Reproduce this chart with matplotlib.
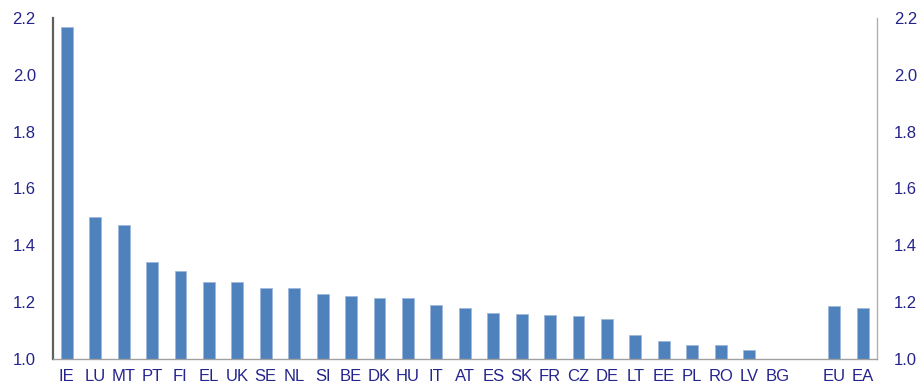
import matplotlib
matplotlib.use("Agg")
import matplotlib.pyplot as plt
import numpy as np

countries = ["IE", "LU", "MT", "PT", "FI", "EL", "UK", "SE", "NL", "SI", "BE", "DK", "HU",
             "IT", "AT", "ES", "SK", "FR", "CZ", "DE", "LT", "EE", "PL", "RO", "LV", "BG",
             "", "EU", "EA"]
values = [2.17, 1.50, 1.47, 1.34, 1.31, 1.27, 1.27, 1.25, 1.25, 1.23, 1.22, 1.215, 1.213,
          1.19, 1.18, 1.162, 1.16, 1.155, 1.15, 1.14, 1.083, 1.065, 1.051, 1.048, 1.032, 1.0,
          np.nan, 1.186, 1.178]
yticks = [1.0, 1.2, 1.4, 1.6, 1.8, 2.0, 2.2]

plt.rcParams["font.family"] = ["Liberation Sans", "DejaVu Sans"]
label_color = "#24248C"

fig = plt.figure(figsize=(9.2, 3.92), dpi=100)
ax = fig.add_axes([0.0571, 0.0842, 0.8962, 0.8699])

x = np.arange(len(countries))
heights = [v - 1.0 if not np.isnan(v) else 0 for v in values]
ax.bar(x, heights, bottom=1.0, width=0.42, color="#4F81BD",
       edgecolor="#9DB9DC", linewidth=0.6)

ax.set_xlim(-0.5, len(countries) - 0.5)
ax.set_ylim(1.0, 2.2)
ax.set_yticks(yticks)
ax.set_yticklabels([f"{t:.1f}" for t in yticks])
ax.set_xticks(x)
ax.set_xticklabels(countries)

ax.tick_params(axis="both", length=0, labelsize=12, colors=label_color)
ax.tick_params(axis="y", labelright=True, pad=12)
ax.tick_params(axis="x", pad=7)

ax.spines["top"].set_visible(False)
ax.spines["left"].set_color("#5F5F5F")
ax.spines["left"].set_linewidth(1.6)
ax.spines["bottom"].set_color("#A0A0A0")
ax.spines["bottom"].set_linewidth(1.0)
ax.spines["right"].set_color("#B0B0B0")
ax.spines["right"].set_linewidth(1.0)

fig.savefig("out.png", dpi=100)
